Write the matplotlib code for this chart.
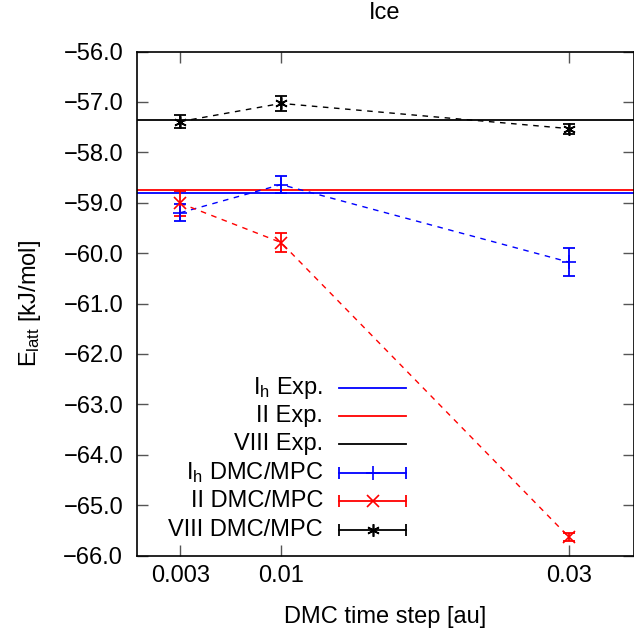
import matplotlib
matplotlib.use("Agg")
import matplotlib.pyplot as plt
from matplotlib.ticker import FuncFormatter, FixedLocator

plt.rcParams['font.family'] = ['Liberation Sans', 'DejaVu Sans']
plt.rcParams['mathtext.fontset'] = 'custom'
plt.rcParams['mathtext.rm'] = 'Liberation Sans'
plt.rcParams['mathtext.it'] = 'Liberation Sans:italic'

# Data
timesteps = [0.003, 0.01, 0.03]
ih_dmc = [-59.20, -58.64, -60.18]
ih_err = [0.17, 0.17, 0.28]
ii_dmc = [-59.01, -59.79, -65.64]
ii_err = [0.25, 0.18, 0.08]
viii_dmc = [-57.39, -57.03, -57.53]
viii_err = [0.13, 0.15, 0.10]
ih_exp = -58.80
ii_exp = -58.74
viii_exp = -57.35

xticks = [0.003, 0.01, 0.03]
xtick_labels = ["0.003", "0.01", "0.03"]
yticks = [-56, -57, -58, -59, -60, -61, -62, -63, -64, -65, -66]

BLUE = '#0000ff'
RED = '#ff0000'
BLACK = '#000000'
FS = 17

W, H = 634, 630
fig = plt.figure(figsize=(W / 100, H / 100), dpi=100)
left, right, top, bottom = 137, 634, 51.5, 555.5
ax = fig.add_axes([left / W, 1 - bottom / H, (right - left) / W, (bottom - top) / H])

# Experimental lines
ax.axhline(ih_exp, color=BLUE, lw=1.3, zorder=2)
ax.axhline(ii_exp, color=RED, lw=1.3, zorder=2)
ax.axhline(viii_exp, color=BLACK, lw=1.3, zorder=2)

ast = (6, 2, 0)
series = [
    (ih_dmc, ih_err, BLUE, '+', 10),
    (ii_dmc, ii_err, RED, 'x', 8),
    (viii_dmc, viii_err, BLACK, ast, 9),
]
for ys, es, c, m, ms in series:
    ax.plot(timesteps, ys, color=c, lw=1.0, ls=(0, (4, 4)), zorder=3)
    ax.errorbar(timesteps, ys, yerr=es, fmt='none', ecolor=c, elinewidth=1.3,
                capsize=4, capthick=1.3, zorder=4)
    ax.plot(timesteps, ys, ls='none', marker=m, ms=ms, mec=c, mfc=c, mew=1.2, zorder=5)

ax.set_xlim(0, 0.0345)
ax.set_ylim(-66, -56)
ax.xaxis.set_major_locator(FixedLocator(xticks))
ax.set_xticklabels(xtick_labels)
ax.yaxis.set_major_locator(FixedLocator(yticks))
ax.yaxis.set_major_formatter(FuncFormatter(lambda v, p: ("%.1f" % v).replace('-', '\u2212')))
ax.tick_params(direction='in', length=8, width=1, color='#555555', top=True, right=True,
               labelsize=FS, pad=7)
ax.tick_params(axis='y', pad=10)
for s in ax.spines.values():
    s.set_linewidth(1.2)

ax.set_xlabel("DMC time step [au]", fontsize=FS)
ax.xaxis.set_label_coords(0.5, -0.122)
ax.xaxis.label.set_va('center')
ax.set_ylabel(r"E$_\mathrm{latt}$ [kJ/mol]", fontsize=FS)
ax.yaxis.set_label_coords(-0.215, 0.5)
ax.yaxis.label.set_va('center')
fig.text(385 / W, 1 - 13 / H, "Ice", fontsize=FS, ha='center', va='center')

# Legend (gnuplot style: right-aligned text, sample to the right)
tx = (323 - left) / (right - left)
x0 = (339 - left) / (right - left)
x1 = (406 - left) / (right - left)
xm = (x0 + x1) / 2
rows = [388, 416, 444, 473, 501, 530]
labels = [r"I$_\mathrm{h}$ Exp.", "II Exp.", "VIII Exp.",
          r"I$_\mathrm{h}$ DMC/MPC", "II DMC/MPC", "VIII DMC/MPC"]
kinds = [(BLUE, None, 0), (RED, None, 0), (BLACK, None, 0),
         (BLUE, '+', 10), (RED, 'x', 8), (BLACK, ast, 9)]
tr = ax.transAxes
for r, lab, (c, m, ms) in zip(rows, labels, kinds):
    yy = (bottom - r) / (bottom - top)
    ax.text(tx, yy, lab, transform=tr, ha='right', va='center', fontsize=FS)
    ax.plot([x0, x1], [yy, yy], transform=tr, color=c, lw=1.3)
    if m is not None:
        ax.plot([x0, x1], [yy, yy], transform=tr, ls='none', marker='|', ms=9, mew=1.3, color=c)
        ax.plot([xm], [yy], transform=tr, ls='none', marker=m, ms=ms, mew=1.2, mec=c, mfc=c)

fig.savefig("out.png", dpi=100)
